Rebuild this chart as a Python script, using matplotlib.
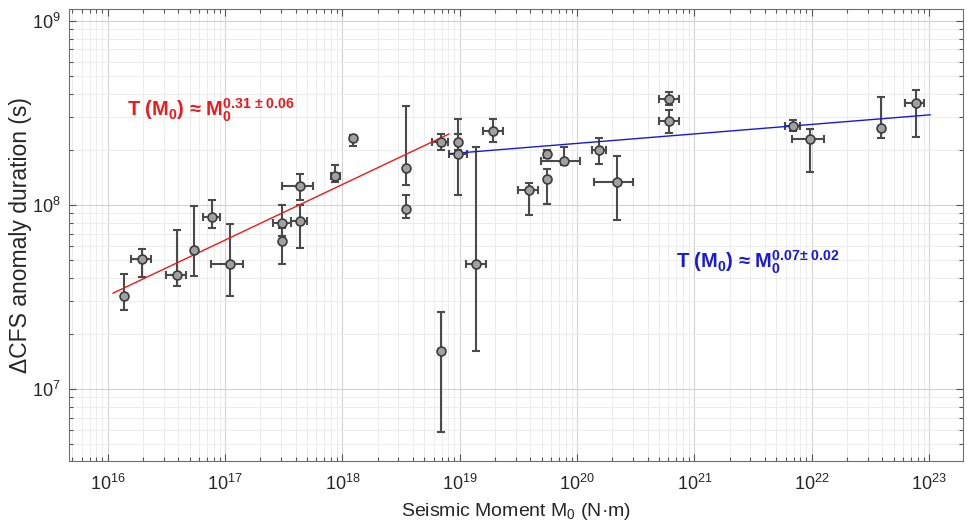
import matplotlib
matplotlib.use("Agg")
import matplotlib.pyplot as plt
import numpy as np

# seismic moment (N.m) and dCFS anomaly duration (s)
moment = [1.38e16, 1.95e16, 3.87e16, 5.48e16, 7.71e16, 1.10e17, 3.08e17, 3.08e17,
          4.34e17, 4.34e17, 8.61e17, 1.22e18, 3.47e18, 3.47e18, 6.90e18, 6.90e18,
          9.68e18, 9.68e18, 1.37e19, 1.94e19, 3.88e19, 5.50e19, 5.50e19, 7.71e19,
          1.54e20, 2.17e20, 6.10e20, 6.10e20, 6.87e21, 9.66e21, 3.86e22, 7.73e22]
duration = [3.21e7, 5.09e7, 4.15e7, 5.71e7, 8.61e7, 4.80e7, 7.98e7, 6.38e7,
            1.27e8, 8.15e7, 1.43e8, 2.31e8, 1.59e8, 9.51e7, 2.21e8, 1.61e7,
            2.21e8, 1.90e8, 4.78e7, 2.53e8, 1.20e8, 1.90e8, 1.39e8, 1.74e8,
            2.00e8, 1.33e8, 3.79e8, 2.86e8, 2.69e8, 2.28e8, 2.62e8, 3.59e8]
dur_lo = [2.69e7, 4.04e7, 3.61e7, 4.13e7, 7.50e7, 3.19e7, 6.80e7, 4.80e7,
          1.07e8, 5.85e7, 1.33e8, 2.10e8, 1.29e8, 8.49e7, 2.00e8, 5.83e6,
          2.00e8, 1.14e8, 1.61e7, 2.20e8, 8.85e7, 1.81e8, 1.01e8, 1.66e8,
          1.68e8, 8.24e7, 3.50e8, 2.46e8, 2.53e8, 1.52e8, 2.31e8, 2.34e8]
dur_hi = [4.20e7, 5.74e7, 7.28e7, 9.90e7, 1.07e8, 7.93e7, 1.00e8, 7.53e7,
          1.48e8, 1.00e8, 1.64e8, 2.39e8, 3.46e8, 1.14e8, 2.43e8, 2.62e7,
          2.93e8, 2.42e8, 2.06e8, 2.93e8, 1.31e8, 2.00e8, 1.56e8, 2.06e8,
          2.31e8, 1.84e8, 4.12e8, 3.29e8, 2.90e8, 2.58e8, 3.87e8, 4.21e8]
nan = np.nan
mom_lo = [nan, 1.59e16, 3.16e16, nan, 6.49e16, 7.66e16, 2.54e17, nan,
          3.08e17, 3.68e17, 8.07e17, nan, nan, nan, 5.86e18, nan,
          nan, 8.13e18, 1.13e19, 1.58e19, 3.15e19, nan, nan, 4.91e19,
          1.33e20, 1.39e20, 5.01e20, 5.01e20, 5.92e21, 6.82e21, nan, 6.24e22]
mom_hi = [nan, 2.33e16, 4.62e16, nan, 9.14e16, 1.42e17, 3.63e17, nan,
          5.62e17, 5.00e17, 9.50e17, nan, nan, nan, 7.96e18, nan,
          nan, 1.16e19, 1.66e19, 2.32e19, 4.61e19, nan, nan, 1.06e20,
          1.78e20, 2.97e20, 7.38e20, 7.38e20, 7.94e21, 1.28e22, nan, 9.10e22]

# power-law fits (end points of the drawn lines)
red_fit_x = [1.11e16, 8.07e18]
red_fit_y = [3.32e7, 2.43e8]
blue_fit_x = [8.2e18, 1.02e23]
blue_fit_y = [1.90e8, 3.09e8]

plt.rcParams["font.family"] = ["Liberation Sans", "DejaVu Sans"]
plt.rcParams["mathtext.fontset"] = "custom"
plt.rcParams["mathtext.rm"] = "Liberation Sans"
plt.rcParams["mathtext.it"] = "Liberation Sans:italic"
plt.rcParams["mathtext.bf"] = "Liberation Sans:bold"

EDGE = "#3c3c3c"
FILL = "#a0a0a0"
BAR = "#4a4a4a"


def setup_axes(ax):
    ax.set_xscale("log")
    ax.set_yscale("log")
    ax.set_xlim(10 ** 15.67, 10 ** 23.29)
    ax.set_ylim(10 ** 6.609, 10 ** 9.065)

    ax.set_xticks([10.0 ** k for k in range(16, 24)])
    ax.set_yticks([1e7, 1e8, 1e9])

    ax.grid(True, which="major", color="#d2d2d2", lw=0.8)
    ax.grid(True, which="minor", color="#ececec", lw=0.7)
    ax.set_axisbelow(True)

    ax.tick_params(which="both", direction="in", top=True, right=True,
                   colors="#555555", labelcolor="#262626", labelsize=13, width=0.8)
    ax.tick_params(which="major", length=5, pad=6)
    ax.tick_params(axis="x", which="major", pad=9)
    ax.tick_params(which="minor", length=3)
    for s in ax.spines.values():
        s.set_color("#6e6e6e")
        s.set_linewidth(0.8)

    ax.set_xlabel("Seismic Moment M$_0$ (N·m)", fontsize=14, color="#262626", labelpad=5)
    ax.set_ylabel("ΔCFS anomaly duration (s)", fontsize=16.5, color="#262626", labelpad=0)
#


def draw_data(ax):
    x = np.array(moment)
    y = np.array(duration)
    yerr = [y - np.array(dur_lo), np.array(dur_hi) - y]
    ax.errorbar(x, y, yerr=yerr, fmt="none", ecolor=BAR, elinewidth=1.5,
                capsize=3, capthick=1.5, zorder=3)

    # horizontal bars only where the figure shows them
    has_x = ~np.isnan(np.array(mom_lo))
    xe = [x[has_x] - np.array(mom_lo)[has_x], np.array(mom_hi)[has_x] - x[has_x]]
    ax.errorbar(x[has_x], y[has_x], xerr=xe, fmt="none", ecolor=BAR,
                elinewidth=1.5, capsize=3, capthick=1.5, zorder=3)

    ax.plot(red_fit_x, red_fit_y, color="#f01818", lw=1.0, zorder=4)
    ax.plot(blue_fit_x, blue_fit_y, color="#1818e0", lw=1.0, zorder=4)

    ax.plot(x, y, "o", ms=6.4, mfc=FILL, mec=EDGE, mew=1.2, zorder=5)
#


def draw_labels(ax):
    ax.text(1.45e16, 3.29e8,
            r"T (M$_\mathbf{0}$) ≈ M$_\mathbf{0}^\mathbf{0.31\ ±\ 0.06}$",
            color="#f01818", fontsize=14.5, fontweight="bold", ha="left", va="center")
    ax.text(6.95e20, 4.87e7,
            r"T (M$_\mathbf{0}$) ≈ M$_\mathbf{0}^\mathbf{0.07±\ 0.02}$",
            color="#1818e0", fontsize=14.5, fontweight="bold", ha="left", va="center")
#


def run():
    fig = plt.figure(figsize=(9.67, 5.24), dpi=100)
    ax = fig.add_axes([0.0714, 0.1202, 0.9245, 0.8626])
    setup_axes(ax)
    draw_data(ax)
    draw_labels(ax)
    fig.savefig("out.png", dpi=100)
#


if __name__ == "__main__":
    run()
